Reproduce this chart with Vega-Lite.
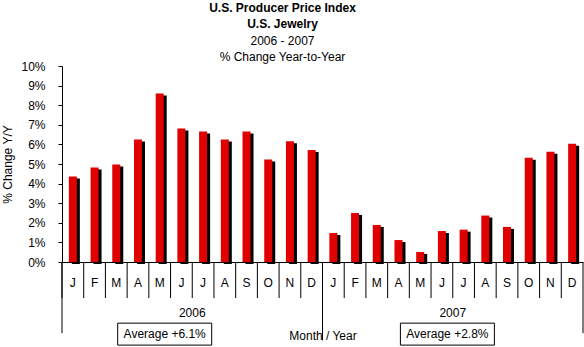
{
  "$schema": "https://vega.github.io/schema/vega-lite/v6.json",
  "width": 521,
  "height": 196,
  "autosize": {"type": "none"},
  "padding": {"left": 62, "top": 66, "right": 1, "bottom": 85},
  "background": "white",
  "config": {
    "font": "Liberation Sans",
    "view": {"stroke": null},
    "axis": {"labelFont": "Liberation Sans", "titleFont": "Liberation Sans"},
    "axisY": {
      "tickCount": 11,
      "labelOverlap": false,
      "labelExpr": "datum.value + '%'",
      "tickSize": 4,
      "labelPadding": 13,
      "grid": false,
      "domainColor": "black",
      "tickColor": "black",
      "labelFontSize": 12,
      "labelColor": "black",
      "titleFontSize": 12,
      "titleFontWeight": "normal",
      "titleColor": "black",
      "titlePadding": 6
    }
  },
  "title": {
    "text": ["U.S. Producer Price Index", "U.S. Jewelry"],
    "subtitle": ["2006 - 2007", "% Change Year-to-Year"],
    "fontSize": 12,
    "fontWeight": "bold",
    "subtitleFontSize": 12,
    "lineHeight": 16,
    "subtitleLineHeight": 16,
    "subtitlePadding": 5,
    "anchor": "middle",
    "offset": -4,
    "dx": -40,
    "color": "black",
    "subtitleColor": "black",
    "font": "Liberation Sans",
    "subtitleFont": "Liberation Sans"
  },
  "datasets": {
    "ppi": [
      {"ym": "2006-01", "v": 4.36}, {"ym": "2006-02", "v": 4.82}, {"ym": "2006-03", "v": 4.97},
      {"ym": "2006-04", "v": 6.25}, {"ym": "2006-05", "v": 8.6}, {"ym": "2006-06", "v": 6.81},
      {"ym": "2006-07", "v": 6.66}, {"ym": "2006-08", "v": 6.25}, {"ym": "2006-09", "v": 6.66},
      {"ym": "2006-10", "v": 5.23}, {"ym": "2006-11", "v": 6.16}, {"ym": "2006-12", "v": 5.72},
      {"ym": "2007-01", "v": 1.48}, {"ym": "2007-02", "v": 2.5}, {"ym": "2007-03", "v": 1.89},
      {"ym": "2007-04", "v": 1.12}, {"ym": "2007-05", "v": 0.51}, {"ym": "2007-06", "v": 1.58},
      {"ym": "2007-07", "v": 1.65}, {"ym": "2007-08", "v": 2.37}, {"ym": "2007-09", "v": 1.79},
      {"ym": "2007-10", "v": 5.32}, {"ym": "2007-11", "v": 5.62}, {"ym": "2007-12", "v": 6.03}
    ],
    "notes": [
      {"yr": "2006", "avg": "Average +6.1%"},
      {"yr": "2007", "avg": "Average +2.8%"}
    ]
  },
  "layer": [
    {
      "data": {"name": "ppi"},
      "encoding": {
        "x": {
          "field": "ym", "type": "nominal", "sort": "ascending",
          "scale": {"paddingInner": 0, "paddingOuter": 0},
          "axis": {
            "title": "Month / Year",
            "labelExpr": "['J','F','M','A','M','J','J','A','S','O','N','D'][toNumber(slice(datum.value,5))-1]",
            "labelAngle": 0,
            "ticks": false,
            "domainColor": "black",
            "labelPadding": 15,
            "labelFontSize": 12,
            "labelColor": "black",
            "titleFontSize": 12,
            "titleFontWeight": "normal",
            "titleColor": "black",
            "titlePadding": 42
          }
        },
        "y": {
          "field": "v", "type": "quantitative",
          "scale": {"domain": [0, 10], "nice": false},
          "axis": {"title": "% Change Y/Y", "values": [0, 1, 2, 3, 4, 5, 6, 7, 8, 9, 10], "tickCount": 11, "labelOverlap": false}
        }
      },
      "layer": [
        {"mark": {"type": "bar", "color": "black", "size": 8, "xOffset": 3, "yOffset": 2}},
        {"mark": {"type": "bar", "color": "#e00000", "size": 8}}
      ]
    },
    {
      "data": {"name": "ppi"},
      "mark": {"type": "rule", "color": "black"},
      "encoding": {
        "x": {"field": "ym", "type": "nominal", "bandPosition": 0},
        "y": {"datum": 0, "type": "quantitative"},
        "y2": {"datum": -1.84}
      }
    },
    {
      "data": {"name": "notes"},
      "transform": [{"filter": "datum.yr == '2006'"}],
      "mark": {"type": "rule", "color": "black"},
      "encoding": {
        "x": {"datum": "2006-01", "type": "nominal", "bandPosition": 0},
        "y": {"datum": 0, "type": "quantitative"},
        "y2": {"datum": -3.63}
      }
    },
    {
      "data": {"name": "notes"},
      "transform": [{"filter": "datum.yr == '2006'"}],
      "mark": {"type": "rule", "color": "black"},
      "encoding": {
        "x": {"datum": "2007-01", "type": "nominal", "bandPosition": 0},
        "y": {"datum": 0, "type": "quantitative"},
        "y2": {"datum": -4.0}
      }
    },
    {
      "data": {"name": "notes"},
      "transform": [{"filter": "datum.yr == '2006'"}],
      "mark": {"type": "rule", "color": "black"},
      "encoding": {
        "x": {"datum": "2007-12", "type": "nominal", "bandPosition": 1},
        "y": {"datum": 0, "type": "quantitative"},
        "y2": {"datum": -3.63}
      }
    },
    {
      "data": {"name": "notes"},
      "transform": [{"filter": "datum.yr == '2006'"}],
      "mark": {"type": "text", "fontSize": 12, "color": "black", "baseline": "middle"},
      "encoding": {
        "x": {"datum": "2006-07", "type": "nominal", "bandPosition": 0},
        "y": {"datum": -2.6, "type": "quantitative"},
        "text": {"field": "yr"}
      }
    },
    {
      "data": {"name": "notes"},
      "transform": [{"filter": "datum.yr == '2007'"}],
      "mark": {"type": "text", "fontSize": 12, "color": "black", "baseline": "middle"},
      "encoding": {
        "x": {"datum": "2007-07", "type": "nominal", "bandPosition": 0},
        "y": {"datum": -2.6, "type": "quantitative"},
        "text": {"field": "yr"}
      }
    },
    {
      "data": {"name": "notes"},
      "transform": [{"filter": "datum.yr == '2006'"}],
      "mark": {"type": "rect", "fill": "white", "stroke": "black", "strokeWidth": 1, "width": 94, "xOffset": 5},
      "encoding": {
        "x": {"datum": "2006-05", "type": "nominal"},
        "y": {"datum": -3.12, "type": "quantitative"},
        "y2": {"datum": -4.24}
      }
    },
    {
      "data": {"name": "notes"},
      "transform": [{"filter": "datum.yr == '2007'"}],
      "mark": {"type": "rect", "fill": "white", "stroke": "black", "strokeWidth": 1, "width": 94, "xOffset": 5.5},
      "encoding": {
        "x": {"datum": "2007-06", "type": "nominal"},
        "y": {"datum": -3.12, "type": "quantitative"},
        "y2": {"datum": -4.24}
      }
    },
    {
      "data": {"name": "notes"},
      "transform": [{"filter": "datum.yr == '2006'"}],
      "mark": {"type": "text", "fontSize": 12, "color": "black", "baseline": "middle", "dx": 5},
      "encoding": {
        "x": {"datum": "2006-05", "type": "nominal"},
        "y": {"datum": -3.68, "type": "quantitative"},
        "text": {"field": "avg"}
      }
    },
    {
      "data": {"name": "notes"},
      "transform": [{"filter": "datum.yr == '2007'"}],
      "mark": {"type": "text", "fontSize": 12, "color": "black", "baseline": "middle", "dx": 5.5},
      "encoding": {
        "x": {"datum": "2007-06", "type": "nominal"},
        "y": {"datum": -3.68, "type": "quantitative"},
        "text": {"field": "avg"}
      }
    }
  ]
}
